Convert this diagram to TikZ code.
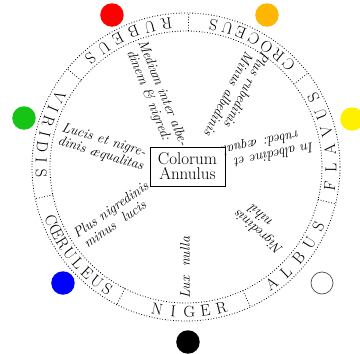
\documentclass[tikz,border=0pt]{standalone}
\usepackage{tikz}
\usetikzlibrary{positioning}

\definecolor{spotred}{RGB}{255,0,0}
\definecolor{spotorange}{RGB}{255,182,0}
\definecolor{spotyellow}{RGB}{255,240,0}
\definecolor{spotgreen}{RGB}{22,196,22}
\definecolor{spotblue}{RGB}{0,0,255}

\begin{document}
\begin{tikzpicture}[
    x=1pt, y=1pt,
    ring/.style={line width=0.8pt, dash pattern=on 0.8pt off 1.9pt},
    ringtxt/.style={font=\fontsize{16}{16}\selectfont, inner sep=0pt},
    note/.style={font=\fontsize{14}{14}\selectfont\itshape, inner sep=0pt, align=left, anchor=base west},
    title/.style={draw, line width=0.6pt, minimum width=75pt, minimum height=39pt, align=center, font=\fontsize{17}{15}\selectfont, inner sep=1pt},
    spot/.style={circle, minimum size=23.5pt, inner sep=0pt}
]
    \useasboundingbox (-186,-187) rectangle (174,167);

    % Ring
    \draw[ring] (0,0) circle (154);
    \draw[ring] (0,0) circle (136);
    \foreach \a in {0,...,6}
        \draw[ring] ({89+\a*51.43}:136) -- ({89+\a*51.43}:154);

    % Colour names in the ring
    \foreach \ch [count=\k from 0] in {R,U,B,E,U,S}
        \node[ringtxt, rotate={187.75+\k*6.7}] (rub\k) at ({97.75+\k*6.7}:145) {\ch};
    \foreach \ch [count=\k from 0] in {C,R,O,C,E,U,S}
        \node[ringtxt, rotate={134.9+\k*5.7}] (cro\k) at ({44.9+\k*5.7}:145) {\ch};
    \foreach \ch [count=\k from 0] in {F,L,A,V,U,S}
        \node[ringtxt, rotate={82.5+\k*7.2}] (fla\k) at ({-7.5+\k*7.2}:145) {\ch};
    \foreach \ch [count=\k from 0] in {A,L,B,U,S}
        \node[ringtxt, rotate={36.2+\k*7.4}] (alb\k) at ({-53.8+\k*7.4}:145) {\ch};
    \foreach \ch [count=\k from 0] in {N,I,G,E,R}
        \node[ringtxt, rotate={348.5+\k*6.4}] (nig\k) at ({258.5+\k*6.4}:145) {\ch};
    \foreach \ch [count=\k from 0] in {C,\OE,R,U,L,E,U,S}
        \node[ringtxt, rotate={291.45+\k*5.1}] (cae\k) at ({201.45+\k*5.1}:145) {\ch};
    \foreach \ch [count=\k from 0] in {V,I,R,I,D,I,S}
        \node[ringtxt, rotate={241.3+\k*5.2}] (vir\k) at ({151.3+\k*5.2}:145) {\ch};

    % Centre
    \node[title] (annulus) at (1.5,0.5) {Colorum\\Annulus};

    % Sayings, read from the ring inwards (placed by their last line)
    \node[note, rotate=-68] (rub-note) at (-61,119.8)
        {Medium inter albe-\\\hspace*{5pt}dinem \& nigred:};
    \node[note, rotate=-117] (cro-note) at (63.5,123.4)
        {Plus rubedinis\\\hspace*{8pt}Minus albedinis};
    \node[note, rotate=192] (fla-note) at (124.1,38.7)
        {In albedine et\\\hspace*{12pt}rubed: \ae qual.};
    \node[note, rotate=139] (alb-note) at (107.2,-71.4)
        {Nigredinis\\\hspace*{26pt}nihil};
    \node[note, rotate=90] (nig-note) at (4,-132)
        {Lux\ \ nulla};
    \node[note, rotate=35] (cae-note) at (-101,-83.5)
        {Plus nigredinis\\\hspace*{3pt}minus\ \ lucis};
    \node[note, rotate=-17] (vir-note) at (-129.1,22.6)
        {Lucis et nigre-\\dinis \ae qualitas};

    % Colour spots
    \node[spot, fill=spotred] (red) at (-74,152) {};
    \node[spot, fill=spotorange] (orange) at (81,152) {};
    \node[spot, fill=spotyellow] (yellow) at (166,48) {};
    \node[spot, fill=spotgreen] (green) at (-162,49) {};
    \node[spot, fill=spotblue] (blue) at (-123,-116) {};
    \node[spot, draw=black!70, line width=0.7pt, minimum size=22pt] (white) at (136,-116) {};
    \node[spot, fill=black] (black) at (2,-175) {};

\end{tikzpicture}
\end{document}
